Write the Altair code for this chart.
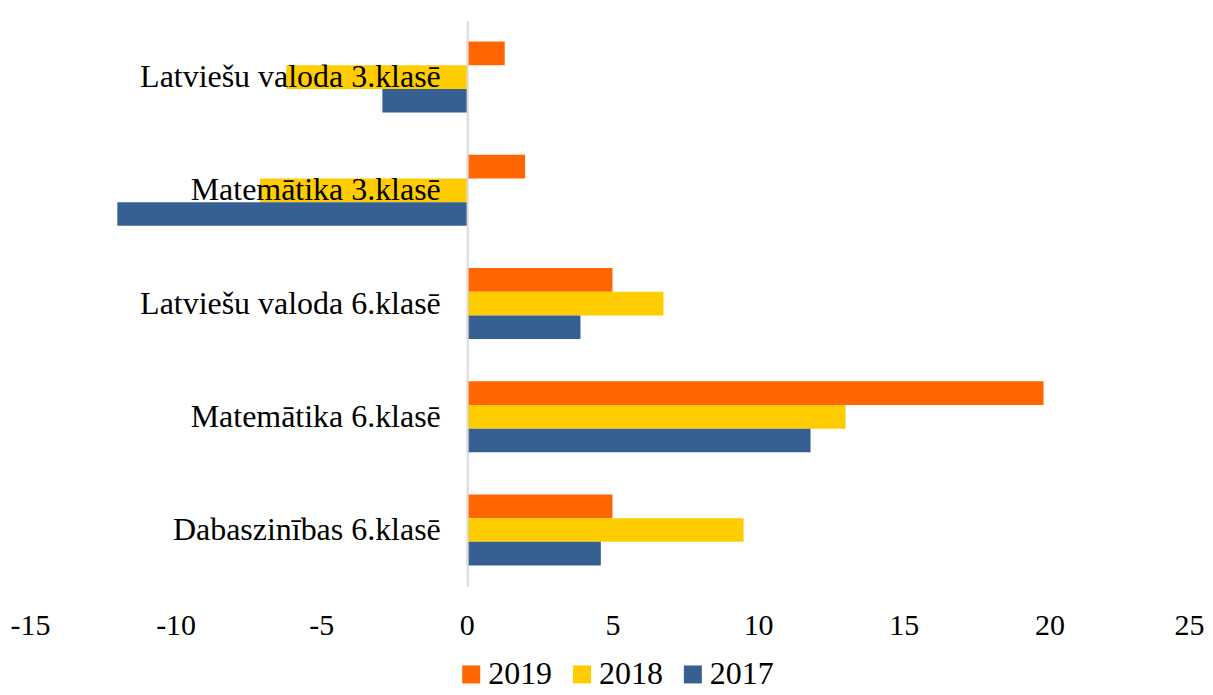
import altair as alt
import pandas as pd

categories = ["Latviešu valoda 3.klasē", "Matemātika 3.klasē", "Latviešu valoda 6.klasē",
              "Matemātika 6.klasē", "Dabaszinības 6.klasē"]
years = ["2019", "2018", "2017"]
v2019 = [1.3, 2.0, 5.0, 19.8, 5.0]
v2018 = [-6.2, -7.1, 6.75, 13.0, 9.5]
v2017 = [-2.9, -12.0, 3.9, 11.8, 4.6]
colors = ["#FF6600", "#FFCC00", "#376092"]
x_ticks = [-15, -10, -5, 0, 5, 10, 15, 20, 25]

rows = []
for yr, vals in zip(years, [v2019, v2018, v2017]):
    for c, v in zip(categories, vals):
        rows.append({"category": c, "year": yr, "value": v})
df = pd.DataFrame(rows)

FONT = "Liberation Serif"

chart = alt.Chart(df).mark_bar().encode(
    x=alt.X("value:Q", stack=None,
            scale=alt.Scale(domain=[-15, 25], nice=False, zero=False),
            axis=alt.Axis(values=x_ticks, title=None, grid=False, domain=False, ticks=False,
                          tickSize=0, labelPadding=24, labelFontSize=30, labelFont=FONT,
                          labelColor="#000000", labelFlush=False, labelOverlap=False,
                          labelOffset={"condition": {"test": "datum.value == 25", "value": -6},
                                       "value": 0},
                          labelExpr="datum.value < 0 ? '-' + abs(datum.value) : '' + datum.value")),
    y=alt.Y("category:N", sort=categories,
            scale=alt.Scale(paddingInner=0.373, paddingOuter=0.186),
            axis=alt.Axis(title=None, offset=-438, zindex=1, ticks=False, tickSize=0,
                          labelPadding=27, labelFontSize=32, labelFont=FONT, labelColor="#000000",
                          domainColor="#d9d9d9", domainWidth=2, grid=False, labelLimit=600)),
    yOffset=alt.YOffset("year:N", sort=years, scale=alt.Scale(paddingInner=0, paddingOuter=0)),
    color=alt.Color("year:N", sort=years,
                    scale=alt.Scale(domain=years, range=colors),
                    legend=alt.Legend(title=None, orient="none", direction="horizontal",
                                      legendX=426, legendY=639, symbolType="square",
                                      symbolSize=324, labelFontSize=32, labelFont=FONT,
                                      labelColor="#000000", columnPadding=14, labelOffset=1,
                                      symbolStrokeWidth=0)),
).properties(
    width=1167, height=567,
    autosize=alt.AutoSizeParams(type="none"),
    padding={"left": 22, "top": 12, "right": 10, "bottom": 100},
).configure_view(stroke=None)

chart.save("out.html", embed_options={"renderer": "svg", "actions": False})
